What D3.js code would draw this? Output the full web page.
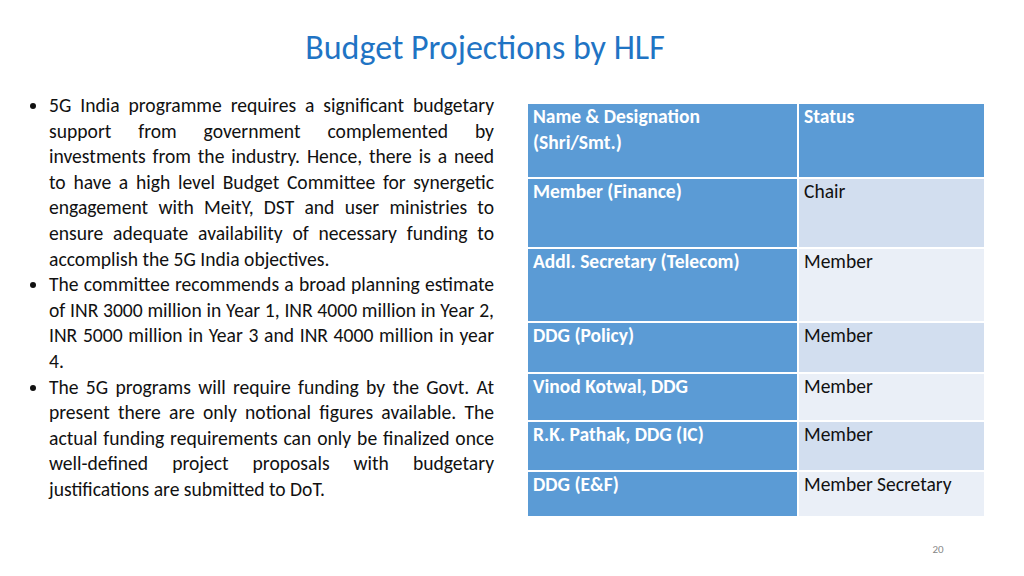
<!DOCTYPE html>
<html><head><meta charset="utf-8">
<script src="https://cdn.jsdelivr.net/npm/d3@7"></script>
<style>
body{margin:0;width:1024px;height:576px;background:#fff;overflow:hidden;font-family:Carlito,"Open Sans",sans-serif;}
#bul{position:absolute;left:26px;top:93px;width:468px;font-size:19.6px;line-height:25.6px;color:#111;}
#bul ul{margin:0;padding-left:23px;}
#bul li{text-align:justify;}
svg{position:absolute;left:0;top:0;}
</style></head>
<body>
<div id="bul"></div>
<svg id="c" width="1024" height="576"></svg>
<script>
const title = "Budget Projections by HLF";
const bullets = [
  "5G India programme requires a significant budgetary support from government complemented by investments from the industry. Hence, there is a need to have a high level Budget Committee for synergetic engagement with MeitY, DST and user ministries to ensure adequate availability of necessary funding to accomplish the 5G India objectives.",
  "The committee recommends a broad planning estimate of INR 3000 million in Year 1, INR 4000 million in Year 2, INR 5000 million in Year 3 and INR 4000 million in year 4.",
  "The 5G programs will require funding by the Govt. At present there are only notional figures available. The actual funding requirements can only be finalized once well-defined project proposals with budgetary justifications are submitted to DoT."
];
const headers = [["Name & Designation","(Shri/Smt.)"],["Status"]];
const names = ["Member (Finance)","Addl. Secretary (Telecom)","DDG (Policy)","Vinod Kotwal, DDG","R.K. Pathak, DDG (IC)","DDG (E&F)"];
const statuses = ["Chair","Member","Member","Member","Member","Member Secretary"];
const rowEdges = [103,178,248,322,373,421,471,517];
const pageNo = "20";

d3.select("#bul").append("ul").selectAll("li").data(bullets).join("li").text(d=>d);

const svg = d3.select("#c");
svg.append("text").attr("x",485).attr("y",59).attr("text-anchor","middle")
  .attr("font-size",34).attr("fill","#1F74C4").text(title);

const x = d3.scaleOrdinal().domain([0,1,2]).range([527,798,985]);
const y = d3.scaleOrdinal().domain(d3.range(rowEdges.length)).range(rowEdges);
const dark="#5B9BD5", light=["#D2DEEF","#EAEFF7"];
const g = svg.append("g");
for(let r=0;r<rowEdges.length-1;r++){
  for(let c=0;c<2;c++){
    const fill = r===0||c===0 ? dark : light[(r-1)%2];
    g.append("rect").attr("x",x(c)).attr("y",y(r)).attr("width",x(c+1)-x(c)).attr("height",y(r+1)-y(r))
      .attr("fill",fill).attr("stroke","#fff").attr("stroke-width",2);
    const lines = r===0 ? headers[c] : [c===0?names[r-1]:statuses[r-1]];
    const t = g.append("text").attr("x",x(c)+6).attr("y",y(r)+20).attr("font-size",19.5)
      .attr("fill", (r===0||c===0)?"#fff":"#111").attr("font-weight",(r===0||c===0)?"bold":"normal");
    lines.forEach((l,i)=>t.append("tspan").attr("x",x(c)+6).attr("dy",i?26:0).text(l));
  }
}
svg.append("text").attr("x",938).attr("y",553).attr("text-anchor","middle").attr("font-size",11).attr("fill","#888").text(pageNo);
</script>
</body></html>
